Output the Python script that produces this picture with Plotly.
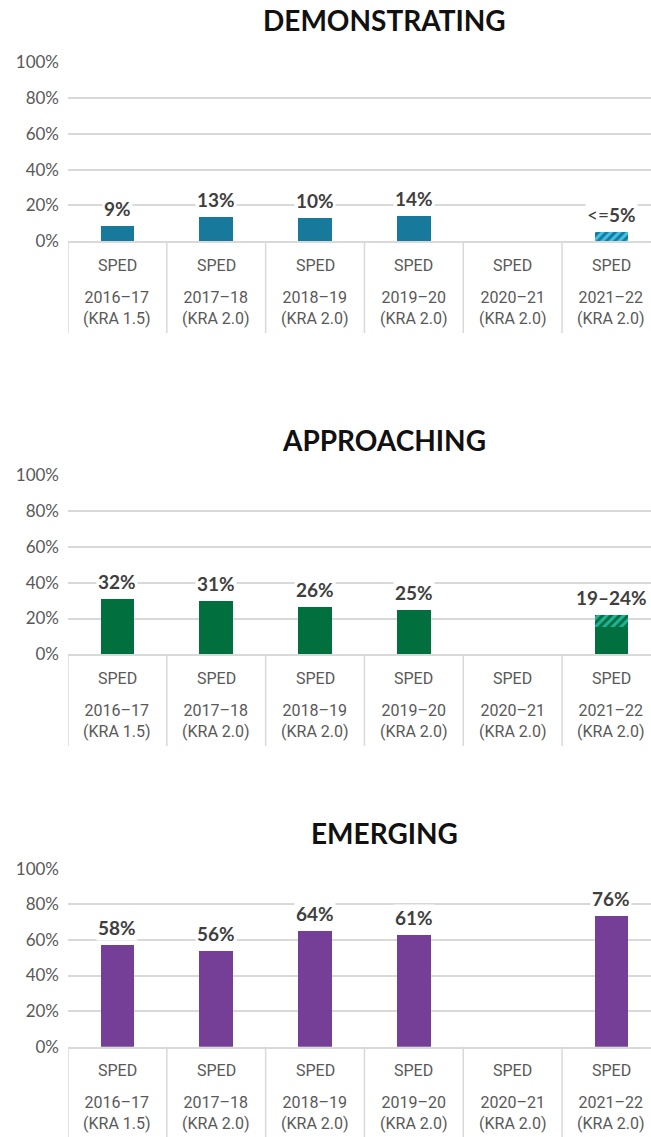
import plotly.graph_objects as go
from plotly.subplots import make_subplots

# Categories
years = ["2016–17", "2017–18", "2018–19", "2019–20", "2020–21", "2021–22"]
versions = ["(KRA 1.5)", "(KRA 2.0)", "(KRA 2.0)", "(KRA 2.0)", "(KRA 2.0)", "(KRA 2.0)"]
group = "SPED"

# Panel titles
titles = ["DEMONSTRATING", "APPROACHING", "EMERGING"]

# Bar heights (solid part and hatched range part)
demo_solid = [8.4, 13.5, 12.9, 14.0, None, None]
demo_hatch = [None, None, None, None, None, 4.9]
demo_labels = ["9%", "13%", "10%", "14%", "", "&lt;=<b>5%</b>"]

appr_solid = [30.9, 29.8, 26.4, 24.8, None, 15.3]
appr_hatch = [None, None, None, None, None, 6.5]
appr_labels = ["32%", "31%", "26%", "25%", "", "19–24%"]

emer_solid = [57.3, 53.9, 65.0, 62.7, None, 73.4]
emer_hatch = [None, None, None, None, None, None]
emer_labels = ["58%", "56%", "64%", "61%", "", "76%"]

y_ticks = [0, 20, 40, 60, 80, 100]
y_tick_text = ["0%", "20%", "40%", "60%", "80%", "100%"]

panels = [
    (demo_solid, demo_hatch, demo_labels, "#177A9C", "#3EC3E6"),
    (appr_solid, appr_hatch, appr_labels, "#016F3E", "#22B49A"),
    (emer_solid, emer_hatch, emer_labels, "#763F97", "#A57BC2"),
]

W, H = 651, 1137
L = 68           # left margin of the figure
PW = W - L       # plot width

# pixel positions of each panel (top = 100% line, bottom = 0% line)
tops = [62.5, 475.5, 868.7]
bases = [241.0, 654.3, 1046.7]
title_y = [20, 440, 833]
sep_bottom = [333, 746, 1137]


def py(p):
    return 1 - p / H


def px(p):
    return (p - L) / PW


fig = make_subplots(rows=3, cols=1)
grid_col = "#d9d9d9"

for i, (solid, hatch, labels, col, light) in enumerate(panels):
    r = i + 1
    fig.add_trace(go.Bar(
        x=years, y=solid, marker=dict(color=col, line=dict(width=0)),
        width=0.34, showlegend=False, hoverinfo="skip"
    ), row=r, col=1)
    fig.add_trace(go.Bar(
        x=years, y=hatch,
        marker=dict(color=col, line=dict(width=0),
                    pattern=dict(shape="/", fgcolor=light, bgcolor=col,
                                 size=6, solidity=0.5, fillmode="replace")),
        width=0.34, showlegend=False, hoverinfo="skip"
    ), row=r, col=1)

    xa = "x" if r == 1 else f"x{r}"
    ya = "y" if r == 1 else f"y{r}"
    fig.update_xaxes(type="category", categoryorder="array", categoryarray=years,
                     range=[-0.5, 5.4], showticklabels=False, showgrid=False,
                     showline=True, linecolor=grid_col, linewidth=2,
                     zeroline=False, fixedrange=True, automargin=False,
                     domain=[0, 1], row=r, col=1)
    fig.update_yaxes(range=[0, 100], tickvals=y_ticks, ticktext=y_tick_text,
                     showgrid=True, gridcolor=grid_col, gridwidth=1.5,
                     zeroline=False, ticklabelstandoff=8, automargin=False,
                     fixedrange=True,
                     tickfont=dict(family="Lato", size=17, color="#595959"),
                     domain=[py(bases[i]), py(tops[i])], row=r, col=1)

    # value labels
    for k, yr in enumerate(years):
        if not labels[k]:
            continue
        total = (solid[k] or 0) + (hatch[k] or 0)
        txt = labels[k] if "&lt;" in labels[k] else f"<b>{labels[k]}</b>"
        fig.add_annotation(x=yr, y=total, xref=xa, yref=ya, text=txt,
                           showarrow=False, yanchor="bottom", yshift=4,
                           bgcolor="white", borderpad=1,
                           font=dict(family="Lato", size=19, color="#3f3f3f"))

    # category separators
    for k in range(len(years)):
        fig.add_shape(type="line", xref=xa, yref="paper",
                      x0=k - 0.5, x1=k - 0.5, y0=py(bases[i]), y1=py(sep_bottom[i]),
                      line=dict(color=grid_col, width=1.5))

    # category labels
    for k, yr in enumerate(years):
        fig.add_annotation(x=yr, xref=xa, yref="paper", y=py(bases[i] + 24),
                           text=group, showarrow=False, yanchor="middle",
                           font=dict(family="Roboto", size=16, color="#595959"))
        fig.add_annotation(x=yr, xref=xa, yref="paper", y=py(bases[i] + 66.5),
                           text=f"{yr}<br>{versions[k]}", showarrow=False,
                           yanchor="middle",
                           font=dict(family="Roboto", size=16, color="#595959"))

    # title
    fig.add_annotation(x=px(384), y=py(title_y[i]), xref="paper", yref="paper",
                       text=f"<b>{titles[i]}</b>", showarrow=False,
                       xanchor="center", yanchor="middle",
                       font=dict(family="Lato", size=28, color="#111111"))

fig.update_layout(
    width=W, height=H, barmode="stack",
    margin=dict(l=L, r=0, t=0, b=0),
    plot_bgcolor="white", paper_bgcolor="white",
)

fig.write_html("out.html", config={"displayModeBar": False},
               post_script="document.body.style.margin = '0';")
